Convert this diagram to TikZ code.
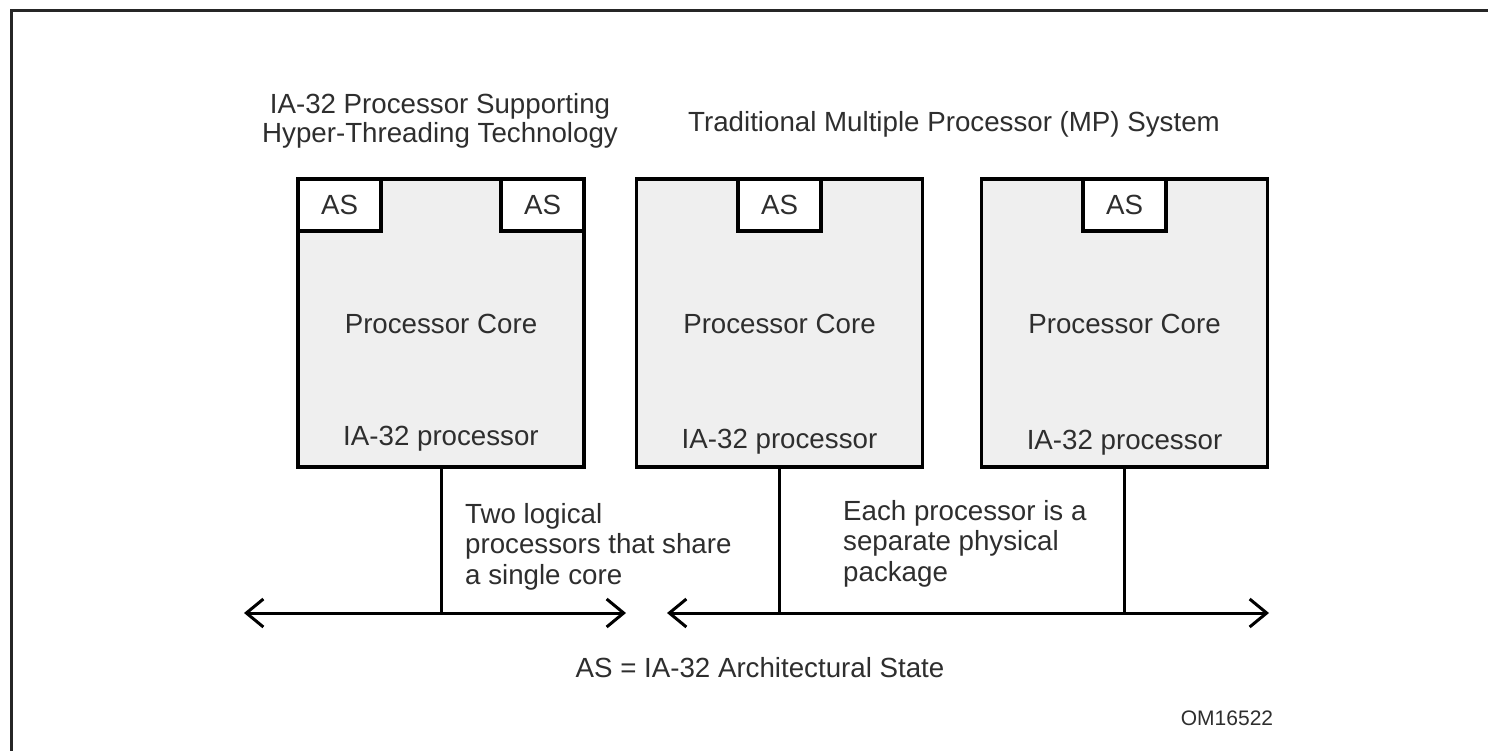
\documentclass[tikz,border=0pt]{standalone}
\usepackage{fontspec}
\setmainfont{Liberation Sans}
\usetikzlibrary{arrows.meta}
\definecolor{boxfill}{HTML}{EFEFEF}
\definecolor{txt}{HTML}{2E2E2E}
\begin{document}
\begin{tikzpicture}[x=1pt,y=-1pt,
  proc/.style={draw, line width=3.5pt, fill=boxfill, minimum width=286pt, minimum height=288pt, inner sep=0pt},
  asbox/.style={draw, line width=3.5pt, fill=white, minimum width=83pt, minimum height=52pt, inner sep=0pt, font=\fontsize{27.7}{31}\selectfont, text=txt},
  lbl/.style={font=\fontsize{27.7}{30.5}\selectfont, text=txt, inner sep=0pt},
  small/.style={font=\fontsize{21}{25}\selectfont, text=txt, inner sep=0pt},
  wire/.style={line width=3pt},
  barb/.tip={Straight Barb[length=17pt,width=28pt,line width=3pt]},
  bus/.style={line width=3pt, barb-barb}
]
\useasboundingbox (0,0) rectangle (1488,750);
\fill[white] (0,0) rectangle (1488,750);
\draw[line width=3pt, color=black!85, line cap=rect] (11,750) -- (11,10) -- (1488,10);

% processor boxes
\node[proc] (p1) at (441,323) {};
\node[proc] (p2) at (779.5,323) {};
\node[proc] (p3) at (1124.5,323) {};

% architectural state boxes
\node[asbox, anchor=north west] (as1) at (p1.north west) {AS};
\node[asbox, anchor=north east] (as2) at (p1.north east) {AS};
\node[asbox, anchor=north] (as3) at (p2.north) {AS};
\node[asbox, anchor=north] (as4) at (p3.north) {AS};

% labels inside boxes
\node[lbl, anchor=base] (c1) at (441,333) {Processor Core};
\node[lbl, anchor=base] (c2) at (779.5,333) {Processor Core};
\node[lbl, anchor=base] (c3) at (1124.5,333) {Processor Core};
\node[lbl, anchor=base] (i1) at (441,445) {IA-32 processor};
\node[lbl, anchor=base] (i2) at (779.5,448) {IA-32 processor};
\node[lbl, anchor=base] (i3) at (1124.5,449) {IA-32 processor};

% titles
\node[lbl, anchor=base, align=center, font=\fontsize{27.7}{29}\selectfont] (t1) at (440,142) {IA-32 Processor Supporting\\Hyper-Threading Technology};
\node[lbl, anchor=base] (t2) at (954,131) {Traditional Multiple Processor (MP) System};

% buses
\coordinate (bl1) at (244,613);
\coordinate (br1) at (626,613);
\coordinate (bl2) at (667,613);
\coordinate (br2) at (1269,613);
\coordinate (j1) at (p1.south |- bl1);
\coordinate (j2) at (p2.south |- bl1);
\coordinate (j3) at (p3.south |- bl1);
\draw[bus] (bl1) -- (br1);
\draw[bus] (bl2) -- (br2);
\draw[wire] (p1.south) -- (j1);
\draw[wire] (p2.south) -- (j2);
\draw[wire] (p3.south) -- (j3);

% annotations
\node[lbl, anchor=base west, align=left] (n1) at (465,584) {Two logical\\processors that share\\a single core};
\node[lbl, anchor=base west, align=left] (n2) at (843,581) {Each processor is a\\separate physical\\package};
\node[lbl, anchor=base] (key) at (760,677) {AS = IA-32 Architectural State};
\node[small, anchor=base] (om) at (1227,725) {OM16522};
\end{tikzpicture}
\end{document}
